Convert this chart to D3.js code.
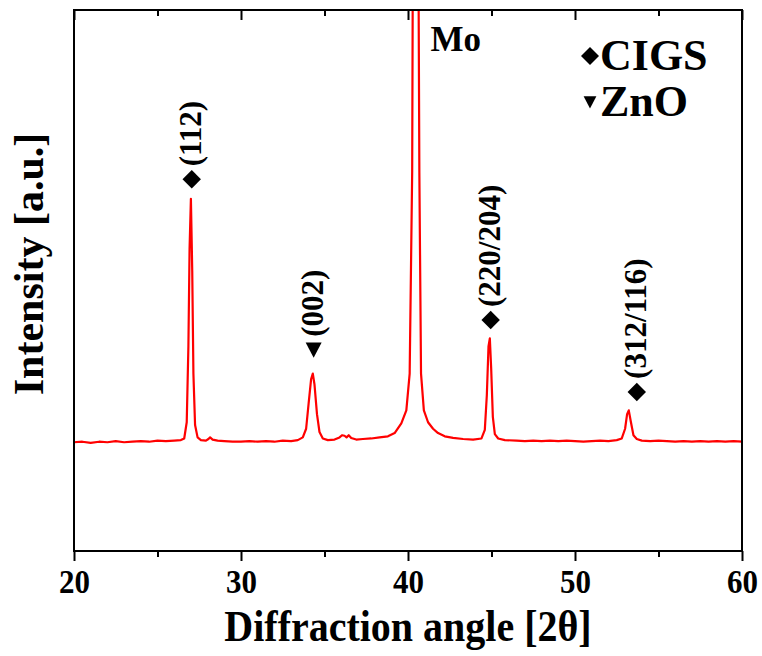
<!DOCTYPE html>
<html><head><meta charset="utf-8">
<script src="https://cdn.jsdelivr.net/npm/d3@7"></script>
<style>
html,body{margin:0;padding:0;background:#fff;}
text{font-family:"Liberation Serif","Times New Roman",serif;font-weight:bold;fill:#000;}
</style></head>
<body>
<svg id="chart" width="762" height="656"></svg>
<script>
const twoTheta = [20.0,20.5,21.0,21.5,22.0,22.5,23.0,23.5,24.0,24.5,25.0,25.5,26.0,26.4,26.6,26.75,26.85,26.92,27.0,27.08,27.15,27.25,27.4,27.6,27.9,28.05,28.15,28.3,28.6,29.0,29.5,30.0,30.5,31.0,31.5,32.0,32.5,33.0,33.4,33.7,33.9,34.05,34.2,34.3,34.4,34.55,34.7,34.9,35.2,35.6,35.9,36.05,36.2,36.32,36.45,36.6,36.9,37.3,37.8,38.3,38.8,39.2,39.6,39.9,40.1,40.25,40.33,40.45,40.57,40.68,40.78,40.95,41.2,41.5,41.8,42.2,42.7,43.3,43.9,44.4,44.6,44.72,44.82,44.9,44.98,45.08,45.2,45.4,45.8,46.5,47.0,47.5,48.0,48.5,49.0,49.5,50.0,50.5,51.0,51.5,52.0,52.5,52.8,53.0,53.12,53.22,53.35,53.5,53.7,54.0,54.5,55.0,55.5,56.0,56.5,57.0,57.5,58.0,58.5,59.0,59.5,60.0];
const intensity = [201,202,200,202,201,203,201,202,203,202,204,203,204,205,208,238,378,558,651,518,328,233,210,205,204,207,210,206,204,203,202,202,203,202,203,202,204,203,205,210,226,273,318,328,308,253,220,208,205,206,210,214,213,210,214,209,206,207,208,210,212,218,236,260,328,700,1500,9000,1500,700,328,260,238,226,218,212,209,207,206,208,224,288,378,393,338,248,216,208,205,204,203,204,203,204,203,204,203,202,203,204,203,205,208,226,253,260,238,214,207,204,203,204,203,202,203,202,203,202,203,202,203,202];

const xTicks = [20,30,40,50,60];
const xMinorTicks = [25,35,45,55];
const peakLabels = ["(112)","(002)","(220/204)","(312/116)"];
const peakPos = [27.05,34.35,44.95,53.7];
const peakMarkerY = [687,372,427,294];
const peakPhase = ["CIGS","ZnO","CIGS","CIGS"];
const legendItems = ["CIGS","ZnO"];
const moLabel = "Mo";

const svg = d3.select("#chart");
const L=74,R=742,T=10,B=551;
const x = d3.scaleLinear().domain([20,60]).range([L,R]);
const y = d3.scaleLinear().domain([0,1000]).range([B,T]);

svg.append("clipPath").attr("id","clip").append("rect")
  .attr("x",L).attr("y",T).attr("width",R-L).attr("height",B-T);

const data = twoTheta.map((t,i)=>[t,intensity[i]]);
svg.append("path").datum(data)
  .attr("clip-path","url(#clip)")
  .attr("fill","none").attr("stroke","#ff0000").attr("stroke-width",2.2)
  .attr("stroke-linejoin","round")
  .attr("d",d3.line().x(d=>x(d[0])).y(d=>y(d[1])));

// frame
svg.append("rect").attr("x",L).attr("y",T).attr("width",R-L).attr("height",B-T)
  .attr("fill","none").attr("stroke","#000").attr("stroke-width",2);

// bottom axis
const gB = svg.append("g").attr("transform",`translate(0,${B})`)
  .call(d3.axisBottom(x).tickValues(xTicks).tickSize(10).tickFormat(d3.format("d")));
gB.select(".domain").remove();
gB.selectAll(".tick line").attr("stroke-width",2);
gB.selectAll(".tick text").attr("font-size",31).attr("y",0).attr("dy",0)
  .attr("transform","translate(0,42) scale(1,1.1)")
  .style("font-family","'Liberation Serif',serif").style("font-weight","bold");
const gBm = svg.append("g").attr("transform",`translate(0,${B})`)
  .call(d3.axisBottom(x).tickValues(xMinorTicks).tickSize(6).tickFormat(""));
gBm.select(".domain").remove();
gBm.selectAll(".tick line").attr("stroke-width",2);

// top axis (ticks inward)
const gT = svg.append("g").attr("transform",`translate(0,${T})`)
  .call(d3.axisBottom(x).tickValues(xTicks).tickSize(10).tickFormat(""));
gT.select(".domain").remove();
gT.selectAll(".tick line").attr("stroke-width",2);
const gTm = svg.append("g").attr("transform",`translate(0,${T})`)
  .call(d3.axisBottom(x).tickValues(xMinorTicks).tickSize(6).tickFormat(""));
gTm.select(".domain").remove();
gTm.selectAll(".tick line").attr("stroke-width",2);

// axis titles
svg.append("text").attr("transform",`translate(${(L+R)/2},641) scale(1,1.1)`).attr("text-anchor","middle")
  .attr("font-size",40).text("Diffraction angle [2θ]");
svg.append("text").attr("transform",`translate(43,264) rotate(-90)`)
  .attr("text-anchor","middle").attr("font-size",42).text("Intensity [a.u.]");

// markers
function marker(g, phase, cx, cy, scale){
  if(phase==="CIGS"){
    g.append("path").attr("d",d3.symbol().type(d3.symbolSquare).size(170*scale)())
      .attr("transform",`translate(${cx},${cy}) rotate(45)`).attr("fill","#000");
  } else {
    const s=8*scale;
    g.append("path").attr("d",`M${cx-s},${cy-s*0.9}L${cx+s},${cy-s*0.9}L${cx},${cy+s*1.0}Z`).attr("fill","#000");
  }
}
peakLabels.forEach((lab,i)=>{
  const cx=x(peakPos[i]), cy=y(peakMarkerY[i]);
  marker(svg, peakPhase[i], cx, cy, 1);
  svg.append("text").attr("transform",`translate(${cx+9},${cy-13}) rotate(-90)`)
    .attr("font-size",31).attr("text-anchor","start").text(lab);
});

svg.append("text").attr("x",x(41.35)).attr("y",51).attr("font-size",35).text(moLabel);

// legend
legendItems.forEach((lab,i)=>{
  const cy=56+i*46;
  marker(svg, lab, 590, cy, i===0?0.95:0.8);
  svg.append("text").attr("x",600).attr("y",cy+14).attr("font-size",44).text(lab);
});
</script>
</body></html>
